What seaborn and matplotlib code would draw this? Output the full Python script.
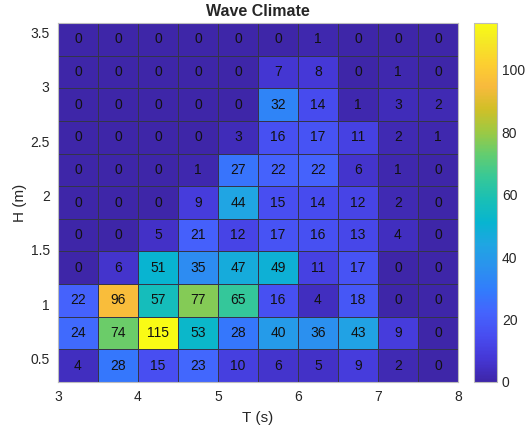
import numpy as np
import pandas as pd
import matplotlib
matplotlib.use("Agg")
import matplotlib.pyplot as plt
import seaborn as sns
from matplotlib.colors import LinearSegmentedColormap

# bin centres (rows listed from top to bottom)
periods = [3.25, 3.75, 4.25, 4.75, 5.25, 5.75, 6.25, 6.75, 7.25, 7.75]
heights = [3.45, 3.15, 2.85, 2.55, 2.25, 1.95, 1.65, 1.35, 1.05, 0.75, 0.45]
counts = [
    [0, 0, 0, 0, 0, 0, 1, 0, 0, 0],
    [0, 0, 0, 0, 0, 7, 8, 0, 1, 0],
    [0, 0, 0, 0, 0, 32, 14, 1, 3, 2],
    [0, 0, 0, 0, 3, 16, 17, 11, 2, 1],
    [0, 0, 0, 1, 27, 22, 22, 6, 1, 0],
    [0, 0, 0, 9, 44, 15, 14, 12, 2, 0],
    [0, 0, 5, 21, 12, 17, 16, 13, 4, 0],
    [0, 6, 51, 35, 47, 49, 11, 17, 0, 0],
    [22, 96, 57, 77, 65, 16, 4, 18, 0, 0],
    [24, 74, 115, 53, 28, 40, 36, 43, 9, 0],
    [4, 28, 15, 23, 10, 6, 5, 9, 2, 0],
]
x_ticks = [3, 4, 5, 6, 7, 8]
y_ticks = [0.5, 1, 1.5, 2, 2.5, 3, 3.5]
cbar_ticks = [0, 20, 40, 60, 80, 100]

# parula-like colormap
parula = [
    (0.2422, 0.1504, 0.6603), (0.2706, 0.2147, 0.8364), (0.2813, 0.3006, 0.9414),
    (0.2699, 0.3892, 0.9906), (0.1963, 0.4847, 0.9892), (0.1687, 0.5703, 0.9359),
    (0.1248, 0.6459, 0.8883), (0.0297, 0.7082, 0.8163), (0.0964, 0.7500, 0.7120),
    (0.2161, 0.7843, 0.5923), (0.3909, 0.8029, 0.4354), (0.6174, 0.7876, 0.2612),
    (0.8203, 0.7498, 0.1535), (0.9728, 0.7298, 0.2394), (0.9892, 0.8136, 0.1885),
    (0.9597, 0.9135, 0.1423), (0.9769, 0.9839, 0.0805),
]
pos = [i * 4 / 63 for i in range(16)] + [1.0]
cmap = LinearSegmentedColormap.from_list("parula", list(zip(pos, parula)))

sns.set_style("white")
plt.rcParams["font.family"] = ["Liberation Sans", "DejaVu Sans"]

df = pd.DataFrame(counts, index=heights, columns=periods)

fig = plt.figure(figsize=(5.3, 4.33), dpi=100)
ax = fig.add_axes([0.1094, 0.1178, 0.7547, 0.829])
cax = fig.add_axes([0.8943, 0.1178, 0.0434, 0.829])

sns.heatmap(df, ax=ax, cbar_ax=cax, cmap=cmap, vmin=0, vmax=115,
            annot=True, fmt="d", annot_kws={"size": 10, "color": "#111111"},
            linewidths=0.6, linecolor="#34344a")

# map real T/H values onto the cell grid
dT = periods[1] - periods[0]
dH = heights[0] - heights[1]
top_edge = heights[0] + dH / 2
ax.set_xticks([(t - (periods[0] - dT / 2)) / dT for t in x_ticks])
ax.set_xticklabels([f"{t:g}" for t in x_ticks], rotation=0)
ax.set_yticks([(top_edge - h) / dH for h in y_ticks])
ax.set_yticklabels([f"{h:g}" for h in y_ticks], rotation=0)
ax.tick_params(length=0, labelsize=10, colors="#262626", pad=6)

for s in ax.spines.values():
    s.set_visible(True)
    s.set_color("#bdbdbd")
    s.set_linewidth(0.8)

ax.set_xlabel("T (s)", fontsize=11, color="#262626", labelpad=5)
ax.set_ylabel("H (m)", fontsize=11, color="#262626", labelpad=2)
ax.set_title("Wave Climate", fontsize=11.5, fontweight="bold", pad=5)

cbar = ax.collections[0].colorbar
cbar.set_ticks(cbar_ticks)
cax.tick_params(direction="in", length=4, labelsize=10, colors="#262626", width=0.6)
cbar.outline.set_visible(True)
cbar.outline.set_edgecolor("#bdbdbd")
cbar.outline.set_linewidth(0.8)

fig.savefig("out.png", dpi=100)
